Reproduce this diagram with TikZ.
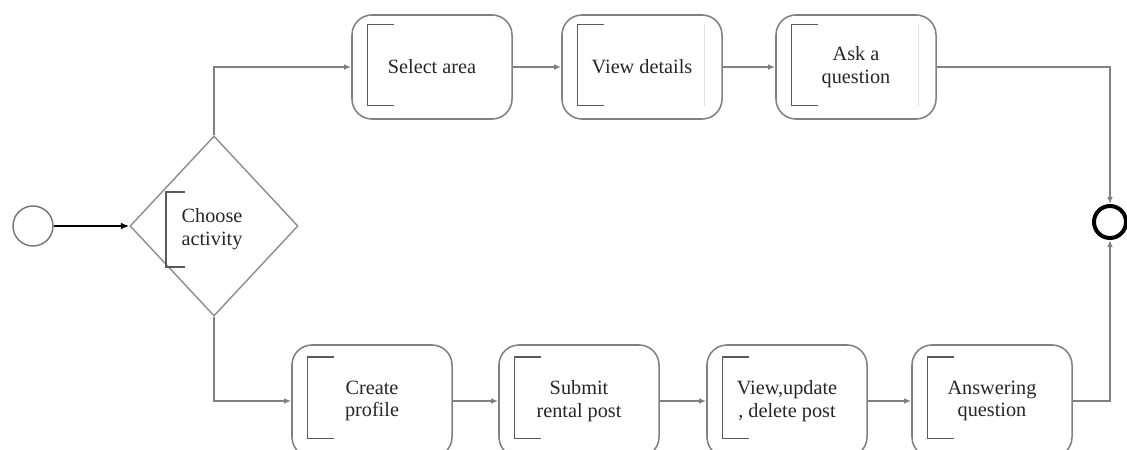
\documentclass[tikz,border=0pt]{standalone}
\usepackage{fontspec}
\setmainfont{Liberation Serif}
\usetikzlibrary{shapes.geometric,arrows.meta}

\begin{document}
\begin{tikzpicture}[x=0.025cm, y=-0.025cm,
		every node/.style={font=\fontsize{14.4}{16}\selectfont, align=center, text=black!85},
		task/.style={draw=black!50, line width=1.1pt, rounded corners=0.5cm, minimum width=4cm, minimum height=2.6cm, inner sep=0pt},
		bracket/.style={draw=black!65, line width=1pt},
		flow/.style={draw=black!50, line width=1.1pt, -{Latex[length=5pt,width=4pt]}}]
	\useasboundingbox (0,0) rectangle (1127,449);

	% Start, decision and end
	\node[circle, draw=black!55, line width=1pt, minimum size=1cm, inner sep=0pt] (start) at (33,226) {};
	\node[diamond, draw=black!45, line width=1pt, minimum width=4.2cm, minimum height=4.5cm, inner sep=0pt] (dia) at (214,226) {};
	\node (choose) at (212,229) {Choose\\activity};
	\node[circle, draw=black, line width=0.1cm, minimum size=0.8cm, inner sep=0pt] (end) at (1110,222) {};

	% Top path
	\node[task] (sel) at (432,67) {Select area};
	\node[task] (det) at (642,67) {View details};
	\node[task] (ask) at (856,67) {Ask a\\question};

	% Bottom path
	\node[task, minimum height=2.8cm] (prof) at (372,401) {Create\\profile};
	\node[task, minimum height=2.8cm] (sub) at (579,401) {Submit\\rental post};
	\node[task, minimum height=2.8cm] (upd) at (787,401) {View,update\\, delete post};
	\node[task, minimum height=2.8cm] (ans) at (992,401) {Answering\\question};

	% Brackets inside the tasks
	\foreach \n in {sel,det,ask}
		\draw[bracket] ([shift={(1.075cm,-0.25cm)}]\n.north west) -- ([shift={(0.4cm,-0.25cm)}]\n.north west)
			-- ([shift={(0.4cm,0.35cm)}]\n.south west) -- ([shift={(1.075cm,0.35cm)}]\n.south west);
	\foreach \n in {prof,sub,upd,ans}
		\draw[bracket] ([shift={(1.075cm,-0.32cm)}]\n.north west) -- ([shift={(0.4cm,-0.32cm)}]\n.north west)
			-- ([shift={(0.4cm,0.48cm)}]\n.south west) -- ([shift={(1.075cm,0.48cm)}]\n.south west);
	\foreach \n in {det,ask}
		\draw[black!12, line width=0.8pt] ([shift={(-0.45cm,-0.25cm)}]\n.north east) -- ([shift={(-0.45cm,0.35cm)}]\n.south east);
	\draw[bracket] (185,192) -- (166,192) -- (166,267) -- (185,267);

	% Connectors
	\draw[black, line width=1.6pt, -{Latex[length=6pt,width=5pt]}] (start) -- (dia);
	\draw[flow] (dia.north) |- (sel.west);
	\draw[flow] (sel) -- (det);
	\draw[flow] (det) -- (ask);
	\draw[flow] (ask.east) -| (end.north);
	\draw[flow] (dia.south) |- (prof.west);
	\draw[flow] (prof) -- (sub);
	\draw[flow] (sub) -- (upd);
	\draw[flow] (upd) -- (ans);
	\draw[flow] (ans.east) -| (end.south);
\end{tikzpicture}
\end{document}
